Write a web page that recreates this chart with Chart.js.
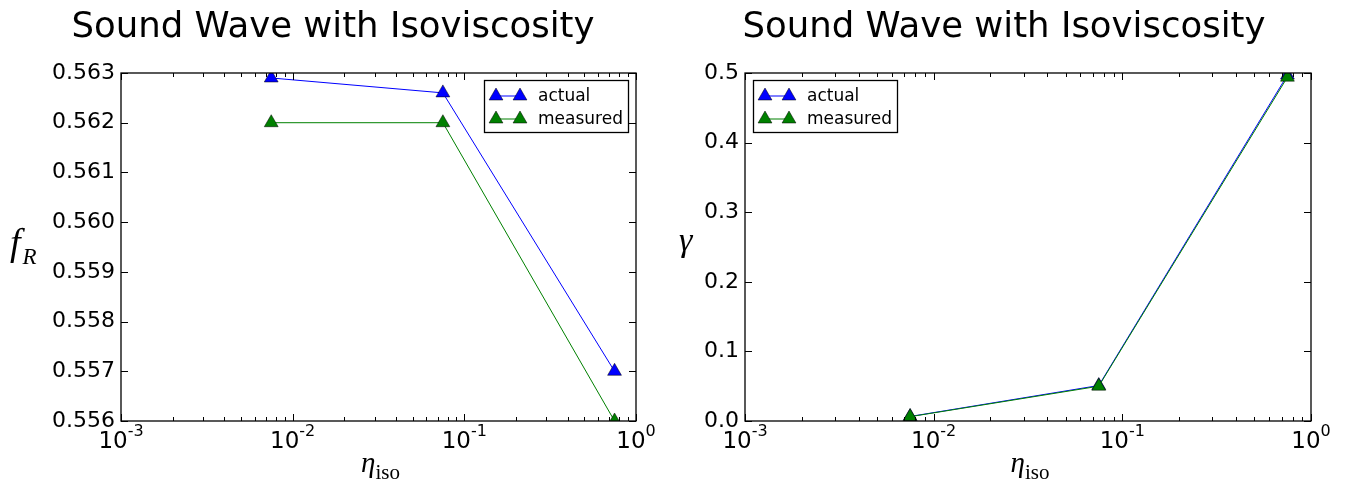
<!DOCTYPE html>
<html>
<head>
<meta charset="utf-8">
<script src="https://cdn.jsdelivr.net/npm/chart.js@4/dist/chart.umd.min.js"></script>
<style>
  html, body { margin: 0; padding: 0; background: #fff; width: 1350px; height: 491px; overflow: hidden; }
  canvas { position: absolute; top: 0; }
  #freqChart { left: 0; }
  #dampChart { left: 670px; }
</style>
</head>
<body>
<canvas id="freqChart" width="666" height="491"></canvas>
<canvas id="dampChart" width="668" height="491"></canvas>
<script>
// isoviscosity values on the shared log x axis
const etaIso = [0.0075, 0.075, 0.75];

// oscillation frequency f_R
const freqActual   = [0.5629, 0.5626, 0.5570];
const freqMeasured = [0.5620, 0.5620, 0.5560];

// damping rate gamma
const dampActual   = [0.0065, 0.051, 0.497];
const dampMeasured = [0.0062, 0.050, 0.494];

// axis ticks
const xTickValues = [0.001, 0.01, 0.1, 1];
const xTickBase = ['10', '10', '10', '10'];
const xTickExp = ['-3', '-2', '-1', '0'];
const freqTicks = [0.556, 0.557, 0.558, 0.559, 0.560, 0.561, 0.562, 0.563];
const dampTicks = [0.0, 0.1, 0.2, 0.3, 0.4, 0.5];

const titleText = 'Sound Wave with Isoviscosity';
const seriesNames = ['actual', 'measured'];
const seriesColors = ['#0000ff', '#008000'];

const SANS = '"DejaVu Sans", sans-serif';
const SERIF = '"Liberation Serif", "DejaVu Serif", serif';
const MARKER_R = 8;

function makeSeries(values, idx) {
  return {
    label: seriesNames[idx],
    data: etaIso.map((x, i) => ({ x: x, y: values[i] })),
    borderColor: seriesColors[idx],
    backgroundColor: seriesColors[idx],
    borderWidth: 1,
    pointStyle: 'triangle',
    pointRadius: MARKER_R,
    pointHoverRadius: MARKER_R,
    pointBorderColor: '#000',
    pointBorderWidth: 0.5,
    tension: 0,
    clip: 0,
    order: idx === 0 ? 1 : 0
  };
}

// same triangle geometry as Chart.js' 'triangle' point style
function drawTriangle(ctx, x, y, r, fill) {
  let rad = 0;
  ctx.beginPath();
  ctx.moveTo(x + Math.sin(rad) * r, y - Math.cos(rad) * r);
  rad += 2 * Math.PI / 3;
  ctx.lineTo(x + Math.sin(rad) * r, y - Math.cos(rad) * r);
  rad += 2 * Math.PI / 3;
  ctx.lineTo(x + Math.sin(rad) * r, y - Math.cos(rad) * r);
  ctx.closePath();
  ctx.fillStyle = fill;
  ctx.fill();
  ctx.strokeStyle = '#000';
  ctx.lineWidth = 0.5;
  ctx.stroke();
}

// frame, inward ticks, x tick labels, legend box, title and axis labels
const decorPlugin = {
  id: 'decor',
  beforeDraw(chart) {
    const ctx = chart.ctx;
    ctx.save();
    ctx.fillStyle = '#fff';
    ctx.fillRect(0, 0, chart.width, chart.height);
    ctx.restore();
  },
  afterDraw(chart, args, opts) {
    const ctx = chart.ctx;
    const a = chart.chartArea;
    const xs = chart.scales.x, ys = chart.scales.y;
    ctx.save();
    ctx.strokeStyle = '#000';
    ctx.lineWidth = 1;

    // minor + major ticks on the log axis (top and bottom, pointing inward)
    ctx.beginPath();
    for (let d = -3; d < 0; d++) {
      for (let k = 2; k <= 9; k++) {
        const px = Math.round(xs.getPixelForValue(k * Math.pow(10, d))) + 0.5;
        ctx.moveTo(px, a.bottom); ctx.lineTo(px, a.bottom - 4);
        ctx.moveTo(px, a.top); ctx.lineTo(px, a.top + 4);
      }
    }
    xTickValues.forEach(v => {
      const px = Math.round(xs.getPixelForValue(v)) + 0.5;
      ctx.moveTo(px, a.bottom); ctx.lineTo(px, a.bottom - 7);
      ctx.moveTo(px, a.top); ctx.lineTo(px, a.top + 7);
    });
    opts.yTicks.forEach(v => {
      const py = Math.round(ys.getPixelForValue(v)) + 0.5;
      ctx.moveTo(a.left, py); ctx.lineTo(a.left + 7, py);
      ctx.moveTo(a.right, py); ctx.lineTo(a.right - 7, py);
    });
    ctx.stroke();

    // axes frame
    ctx.lineWidth = 1.3;
    ctx.strokeRect(a.left, a.top, a.right - a.left, a.bottom - a.top);

    // x tick labels: 10 with superscript exponent
    ctx.fillStyle = '#000';
    ctx.textBaseline = 'alphabetic';
    ctx.textAlign = 'left';
    xTickValues.forEach((v, i) => {
      const px = xs.getPixelForValue(v);
      ctx.font = '23px ' + SANS;
      const wb = ctx.measureText(xTickBase[i]).width;
      ctx.font = '16px ' + SANS;
      const we = ctx.measureText(xTickExp[i]).width;
      const x0 = px - (wb + we) / 2;
      ctx.font = '23px ' + SANS;
      ctx.fillText(xTickBase[i], x0, a.bottom + 27);
      ctx.font = '16px ' + SANS;
      ctx.fillText(xTickExp[i], x0 + wb, a.bottom + 15);
    });

    // title
    ctx.textAlign = 'center';
    ctx.font = '35.5px ' + SANS;
    ctx.fillText(titleText, chart.width / 2, 37);

    // x axis label: eta with subscript "iso"
    const cx = (a.left + a.right) / 2;
    ctx.font = 'italic 29px ' + SERIF;
    const wEta = ctx.measureText('η').width;
    ctx.font = '21px ' + SERIF;
    const wIso = ctx.measureText('iso').width;
    const lx = cx - (wEta + wIso) / 2 + 2;
    ctx.textAlign = 'left';
    ctx.font = 'italic 29px ' + SERIF;
    ctx.fillText('η', lx, 472);
    ctx.font = '21px ' + SERIF;
    ctx.fillText('iso', lx + wEta, 479);

    // y axis label
    const yl = opts.yLabel;
    ctx.font = 'italic ' + yl.size + 'px ' + SERIF;
    ctx.fillText(yl.main, yl.x, yl.y);
    if (yl.sub) {
      const wm = ctx.measureText(yl.main).width;
      ctx.font = 'italic 23px ' + SERIF;
      ctx.fillText(yl.sub, yl.x + wm + 2, yl.y + 9);
    }

    // legend
    const L = opts.legend;
    ctx.fillStyle = '#fff';
    ctx.fillRect(L.x, L.y, L.w, L.h);
    ctx.lineWidth = 1.3;
    ctx.strokeStyle = '#000';
    ctx.strokeRect(L.x + 0.5, L.y + 0.5, L.w, L.h);
    seriesNames.forEach((name, i) => {
      const rowY = L.y + 16 + i * 23;
      const x1 = L.x + 12, x2 = L.x + 36;
      ctx.strokeStyle = seriesColors[i];
      ctx.lineWidth = 1;
      ctx.beginPath();
      ctx.moveTo(x1, rowY); ctx.lineTo(x2, rowY);
      ctx.stroke();
      drawTriangle(ctx, x1, rowY, MARKER_R, seriesColors[i]);
      drawTriangle(ctx, x2, rowY, MARKER_R, seriesColors[i]);
      ctx.fillStyle = '#000';
      ctx.font = '17px ' + SANS;
      ctx.textBaseline = 'middle';
      ctx.fillText(name, L.x + 54, rowY + 1);
      ctx.textBaseline = 'alphabetic';
    });
    ctx.restore();
  }
};

function buildChart(canvasId, actual, measured, yMin, yMax, yTicks, decimals, area, legend, yLabel) {
  return new Chart(document.getElementById(canvasId), {
    type: 'line',
    data: { datasets: [makeSeries(actual, 0), makeSeries(measured, 1)] },
    options: {
      responsive: false,
      animation: false,
      events: [],
      layout: { padding: { top: area.top, right: area.right, left: 0, bottom: 0 } },
      plugins: {
        legend: { display: false },
        title: { display: false },
        tooltip: { enabled: false },
        decor: { yTicks: yTicks, legend: legend, yLabel: yLabel }
      },
      scales: {
        x: {
          type: 'logarithmic',
          min: 0.001,
          max: 1,
          grid: { display: false, drawTicks: false },
          border: { display: false },
          ticks: { display: false },
          afterFit(scale) { scale.height = area.bottomH; }
        },
        y: {
          type: 'linear',
          min: yMin,
          max: yMax,
          grid: { display: false, drawTicks: false },
          border: { display: false },
          afterBuildTicks(scale) { scale.ticks = yTicks.map(v => ({ value: v })); },
          ticks: {
            color: '#000',
            padding: 6,
            font: { family: 'DejaVu Sans', size: 22 },
            callback: v => Number(v).toFixed(decimals)
          },
          afterFit(scale) { scale.width = area.leftW; }
        }
      }
    },
    plugins: [decorPlugin]
  });
}

buildChart('freqChart', freqActual, freqMeasured, 0.556, 0.563, freqTicks, 3,
  { top: 73, right: 30, bottomH: 70, leftW: 121 },
  { x: 484, y: 80, w: 144, h: 52 },
  { main: 'f', sub: 'R', size: 38, x: 10, y: 255 });

buildChart('dampChart', dampActual, dampMeasured, 0.0, 0.5, dampTicks, 1,
  { top: 73, right: 27, bottomH: 70, leftW: 75 },
  { x: 83, y: 80, w: 144, h: 52 },
  { main: 'γ', sub: '', size: 34, x: 9, y: 251 });
</script>
</body>
</html>
